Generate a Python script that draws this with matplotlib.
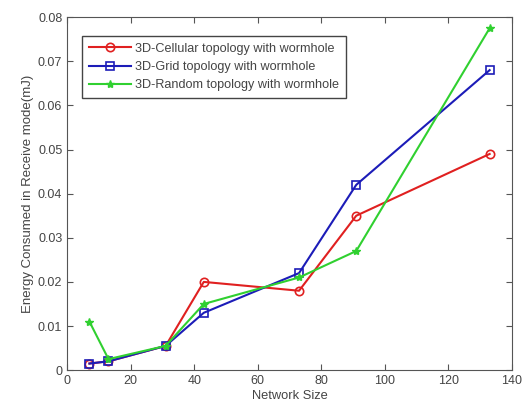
import matplotlib
matplotlib.use("Agg")
import matplotlib.pyplot as plt

plt.rcParams["font.family"] = ["Liberation Sans", "DejaVu Sans"]

network_size = [7, 13, 31, 43, 73, 91, 133]
cellular = [0.0015, 0.002, 0.0055, 0.020, 0.018, 0.035, 0.049]
grid = [0.0015, 0.002, 0.0055, 0.013, 0.022, 0.042, 0.068]
random_topo = [0.011, 0.0025, 0.0055, 0.015, 0.021, 0.027, 0.0775]

labels = ["3D-Cellular topology with wormhole",
          "3D-Grid topology with wormhole",
          "3D-Random topology with wormhole"]

fig = plt.figure(figsize=(5.25, 4.09), dpi=100)
ax = fig.add_axes([0.128, 0.095, 0.847, 0.863])

ax.plot(network_size, cellular, color="#e02020", marker="o", mfc="none",
        ms=6, lw=1.5, mew=1.2, label=labels[0])
ax.plot(network_size, grid, color="#1c1cb8", marker="s", mfc="none",
        ms=6, lw=1.5, mew=1.2, label=labels[1])
ax.plot(network_size, random_topo, color="#30d030", marker="*",
        ms=6, lw=1.5, label=labels[2])

ax.set_xlim(0, 140)
ax.set_ylim(0, 0.08)
ax.set_xticks(range(0, 141, 20))
ax.set_yticks([0, 0.01, 0.02, 0.03, 0.04, 0.05, 0.06, 0.07, 0.08])
ax.set_yticklabels(["0", "0.01", "0.02", "0.03", "0.04", "0.05", "0.06", "0.07", "0.08"])
ax.tick_params(direction="in", top=True, right=True, labelsize=9,
               colors="#555555", labelcolor="#444444", length=4)
for s in ax.spines.values():
    s.set_color("#555555")

ax.set_xlabel("Network Size", fontsize=9.3, color="#444444", labelpad=2)
ax.set_ylabel("Energy Consumed in Receive mode(mJ)", fontsize=9.5, color="#444444", labelpad=3)

leg = ax.legend(loc="upper left", bbox_to_anchor=(0.02, 0.965), fontsize=9.1,
                fancybox=False, edgecolor="#444444", framealpha=1,
                handlelength=3.3, borderpad=0.55, labelspacing=0.5,
                handletextpad=0.3)
for t in leg.get_texts():
    t.set_color("#444444")

fig.savefig("out.png", dpi=100)
